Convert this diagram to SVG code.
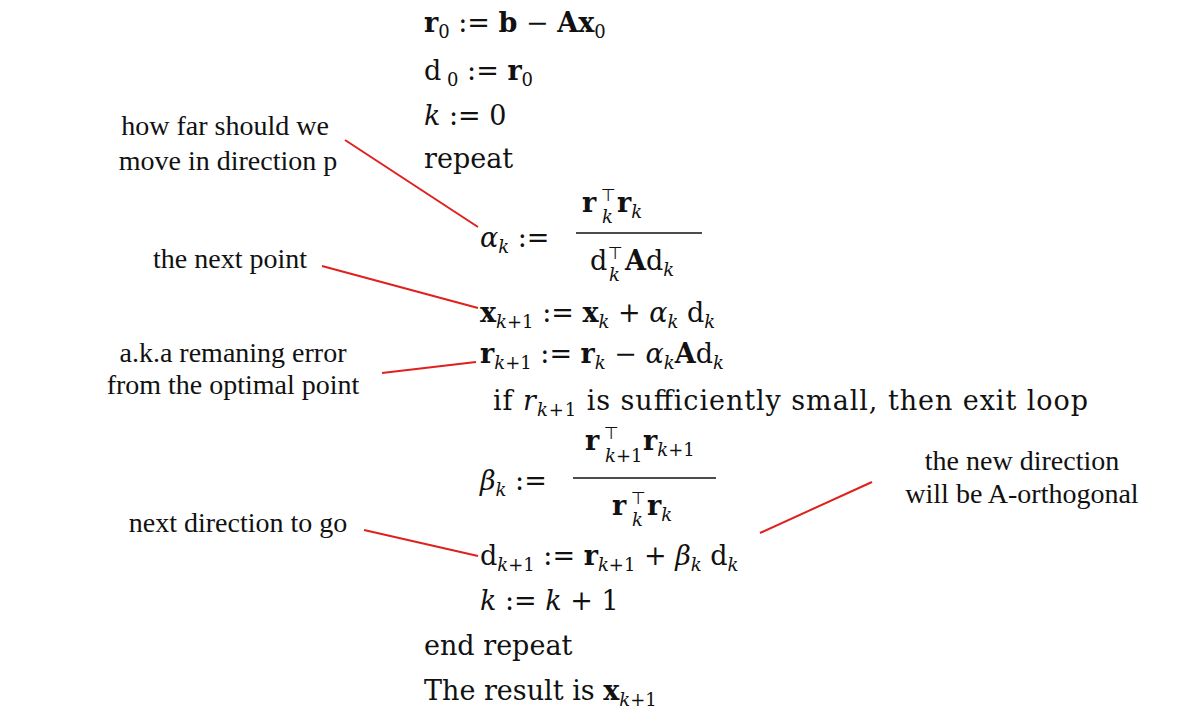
<svg xmlns="http://www.w3.org/2000/svg" width="1181" height="722" viewBox="0 0 1181 722">
<style>
.m{font-family:"DejaVu Serif",serif;font-size:27px;fill:#111}
.i{font-style:italic}
.b{font-weight:bold}
.s{font-size:18px}
.t{font-family:"DejaVu Sans",sans-serif;font-size:17px;fill:#111}
.a{font-family:"Liberation Serif",serif;font-size:28px;fill:#111;text-anchor:middle}
.r{stroke:#e0201c;stroke-width:2;fill:none}
.f{stroke:#111;stroke-width:1.6}
</style>
<rect width="1181" height="722" fill="#fff"/>
<g id="algorithm">
<text class="m" x="424" y="32"><tspan class="b">r</tspan><tspan class="s" dy="6">0</tspan><tspan dy="-6"> := </tspan><tspan class="b">b</tspan> − <tspan class="b">Ax</tspan><tspan class="s" dy="6">0</tspan></text>
<text class="m" x="424" y="80">d<tspan class="s" dy="6"> 0</tspan><tspan dy="-6"> := </tspan><tspan class="b">r</tspan><tspan class="s" dy="6">0</tspan></text>
<text class="m" x="424" y="125"><tspan class="i">k</tspan> := 0</text>
<text class="m" x="424" y="168">repeat</text>
<text class="m" x="480" y="247"><tspan class="i">α</tspan><tspan class="s i" dy="6">k</tspan><tspan dy="-6"> :=</tspan></text>
<text class="m b" x="582" y="212">r</text><text class="t" x="601" y="201">⊤</text><text class="m s i" x="602" y="223">k</text><text class="m" x="617" y="212"><tspan class="b">r</tspan><tspan class="s i" dy="6">k</tspan></text>
<line class="f" x1="576" y1="233" x2="702" y2="233"/>
<text class="m" x="590" y="270">d</text><text class="t" x="608" y="259">⊤</text><text class="m s i" x="609" y="281">k</text><text class="m" x="625" y="270"><tspan class="b">A</tspan>d<tspan class="s i" dy="6">k</tspan></text>
<text class="m" x="480" y="322"><tspan class="b">x</tspan><tspan class="s"><tspan class="i" dy="6">k</tspan>+1</tspan><tspan dy="-6"> := </tspan><tspan class="b">x</tspan><tspan class="s i" dy="6">k</tspan><tspan dy="-6"> + </tspan><tspan class="i">α</tspan><tspan class="s i" dy="6">k</tspan><tspan dy="-6"> d</tspan><tspan class="s i" dy="6">k</tspan></text>
<text class="m" x="480" y="363"><tspan class="b">r</tspan><tspan class="s"><tspan class="i" dy="6">k</tspan>+1</tspan><tspan dy="-6"> := </tspan><tspan class="b">r</tspan><tspan class="s i" dy="6">k</tspan><tspan dy="-6"> − </tspan><tspan class="i">α</tspan><tspan class="s i" dy="6">k</tspan><tspan class="b" dy="-6">A</tspan>d<tspan class="s i" dy="6">k</tspan></text>
<text class="m" x="493" y="410" textLength="595">if <tspan class="i">r</tspan><tspan class="s"><tspan class="i" dy="6">k</tspan>+1</tspan><tspan dy="-6"> is sufficiently small, then exit loop</tspan></text>
<text class="m" x="480" y="490"><tspan class="i">β</tspan><tspan class="s i" dy="6">k</tspan><tspan dy="-6"> :=</tspan></text>
<text class="m b" x="585" y="450">r</text><text class="t" x="604" y="439">⊤</text><text class="m s" x="605" y="462"><tspan class="i">k</tspan>+1</text><text class="m" x="643" y="450"><tspan class="b">r</tspan><tspan class="s" dy="6"><tspan class="i">k</tspan>+1</tspan></text>
<line class="f" x1="573" y1="478" x2="716" y2="478"/>
<text class="m b" x="612" y="515">r</text><text class="t" x="631" y="504">⊤</text><text class="m s i" x="632" y="526">k</text><text class="m" x="647" y="515"><tspan class="b">r</tspan><tspan class="s i" dy="6">k</tspan></text>
<text class="m" x="480" y="565">d<tspan class="s"><tspan class="i" dy="6">k</tspan>+1</tspan><tspan dy="-6"> := </tspan><tspan class="b">r</tspan><tspan class="s"><tspan class="i" dy="6">k</tspan>+1</tspan><tspan dy="-6"> + </tspan><tspan class="i">β</tspan><tspan class="s i" dy="6">k</tspan><tspan dy="-6"> d</tspan><tspan class="s i" dy="6">k</tspan></text>
<text class="m" x="480" y="610"><tspan class="i">k</tspan> := <tspan class="i">k</tspan> + 1</text>
<text class="m" x="424" y="655">end repeat</text>
<text class="m" x="424" y="700">The result is <tspan class="b">x</tspan><tspan class="s"><tspan class="i" dy="6">k</tspan>+1</tspan></text>
</g>
<g id="notes">
<text class="a" x="225" y="135">how far should we</text>
<text class="a" x="228" y="170">move in direction p</text>
<text class="a" x="230" y="268">the next point</text>
<text class="a" x="233" y="362">a.k.a remaning error</text>
<text class="a" x="233" y="394">from the optimal point</text>
<text class="a" x="238" y="532">next direction to go</text>
<text class="a" x="1022" y="470">the new direction</text>
<text class="a" x="1022" y="503">will be A-orthogonal</text>
</g>
<g id="connectors">
<line class="r" x1="345" y1="140" x2="478" y2="227"/>
<line class="r" x1="322" y1="266" x2="478" y2="308"/>
<line class="r" x1="382" y1="373" x2="476" y2="362"/>
<line class="r" x1="364" y1="530" x2="478" y2="556"/>
<line class="r" x1="760" y1="533" x2="872" y2="482"/>
</g>
</svg>
